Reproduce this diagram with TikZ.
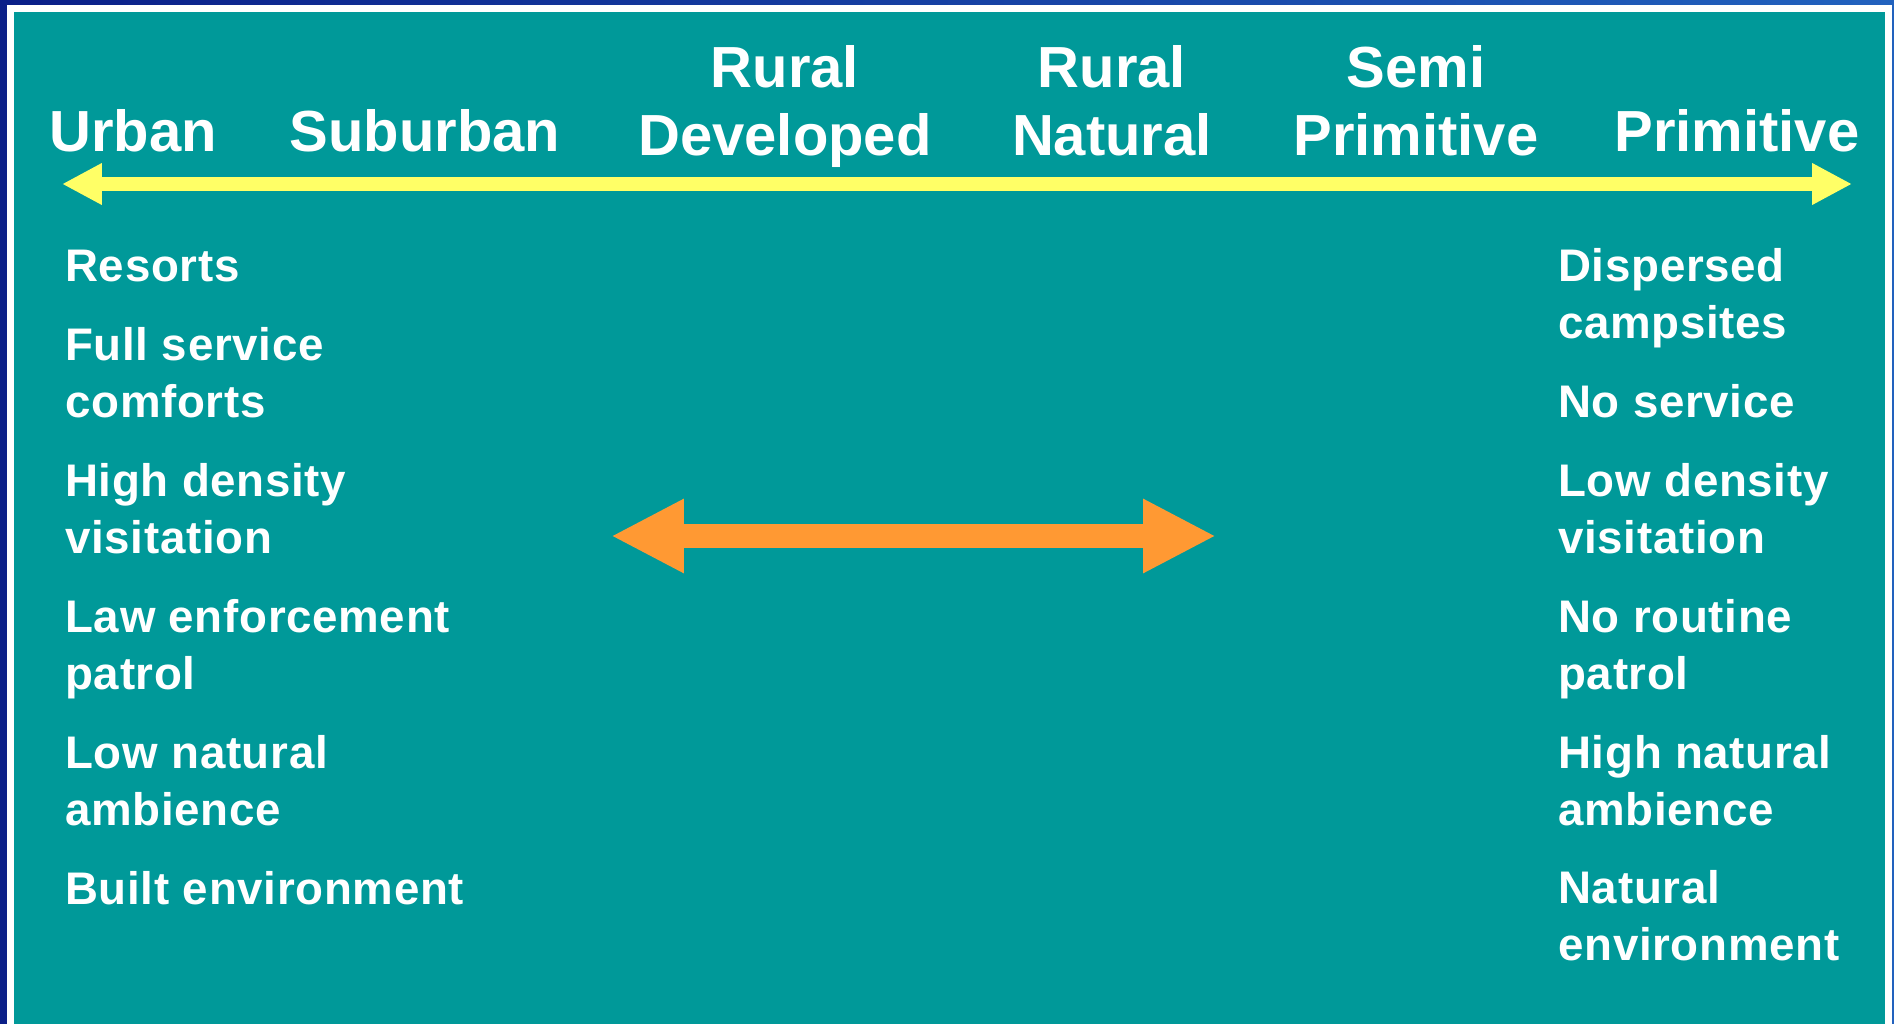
\documentclass[tikz,border=0pt]{standalone}
\usepackage{fontspec}
\setmainfont{Liberation Sans}
\usetikzlibrary{arrows.meta}
\usetikzlibrary{positioning}
\definecolor{slideteal}{HTML}{009999}
\definecolor{frameblueL}{HTML}{0B1F88}
\definecolor{frameblueR}{HTML}{2262BE}
\definecolor{scaleyellow}{HTML}{FFFF66}
\definecolor{spanorange}{HTML}{FF9933}

\begin{document}
\begin{tikzpicture}[x=0.02cm,y=-0.02cm]
			\tikzstyle{heading}=[font=\fontsize{33}{38.6}\selectfont\bfseries,text=white,align=center,inner sep=0pt,anchor=base]
			\tikzstyle{item}=[font=\fontsize{26}{32.3}\selectfont\bfseries\addfontfeature{LetterSpace=1.5},text=white,align=left,inner sep=0pt,anchor=base west]
			\tikzstyle{scale arrow}=[draw=scaleyellow,line width=0.28cm,{Triangle[length=0.8cm,width=0.78cm]}-{Triangle[length=0.8cm,width=0.78cm]}]
			\tikzstyle{span arrow}=[draw=spanorange,line width=0.48cm,{Triangle[length=1.46cm,width=1.38cm]}-{Triangle[length=1.46cm,width=1.38cm]}]

			% slide frame
			\fill[left color=frameblueL,right color=frameblueR] (0,0) rectangle (1894,1024);
			\fill[white] (7,5) rectangle (1892,1024);
			\fill[slideteal] (14,12) rectangle (1885,1024);
			\useasboundingbox (0,0) rectangle (1894,1024);

			% spectrum classes (base = last line)
			\node[heading] (urban) at (133,152) {Urban};
			\node[heading] (suburban) at (425,152) {Suburban};
			\node[heading] (ruraldev) at (785,155) {Rural\\Developed};
			\node[heading] (ruralnat) at (1112,155) {Rural\\Natural};
			\node[heading] (semiprim) at (1416,155) {Semi\\Primitive};
			\node[heading] (primitive) at (1737,152) {Primitive};

			\coordinate (scaleL) at (62,184);
			\coordinate (scaleR) at (1852,184);
			\draw[scale arrow] (scaleL) -- (scaleR);

			% urban end
			\node[item] (resorts) at (65,281) {Resorts};
			\node[item] (fullserv) at (65,417) {Full service\\comforts};
			\node[item] (highdens) at (65,553) {High density\\visitation};
			\node[item] (lawpatrol) at (65,689) {Law enforcement\\patrol};
			\node[item] (lownat) at (65,825) {Low natural\\ambience};
			\node[item] (builtenv) at (65,904) {Built environment};

			% primitive end
			\node[item] (dispersed) at (1558,338) {Dispersed\\campsites};
			\node[item] (noserv) at (1558,417) {No service};
			\node[item] (lowdens) at (1558,553) {Low density\\visitation};
			\node[item] (nopatrol) at (1558,689) {No routine\\patrol};
			\node[item] (highnat) at (1558,825) {High natural\\ambience};
			\node[item] (natenv) at (1558,960) {Natural\\environment};

			\coordinate (spanL) at (611,536);
			\coordinate (spanR) at (1216,536);
			\draw[span arrow] (spanL) -- (spanR);
\end{tikzpicture}
\end{document}
